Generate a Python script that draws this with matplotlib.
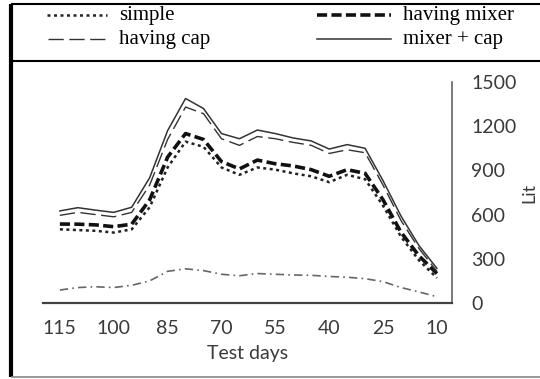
import matplotlib.pyplot as plt
from matplotlib.lines import Line2D

# consumo diario (Lit) por tratamiento
days = [115, 110, 105, 100, 95, 90, 85, 80, 75, 70, 65, 60, 55, 50, 45, 40, 35, 30, 25, 20, 15, 10]
simple = [500, 495, 490, 478, 500, 650, 920, 1095, 1060, 920, 870, 920, 905, 880, 860, 820, 870, 840, 660, 450, 290, 170]
having_mixer = [536, 535, 530, 518, 535, 700, 990, 1150, 1110, 960, 910, 970, 945, 930, 905, 860, 905, 880, 700, 480, 320, 200]
having_cap = [595, 615, 600, 585, 615, 800, 1110, 1330, 1285, 1115, 1070, 1130, 1115, 1090, 1070, 1015, 1040, 1020, 800, 560, 370, 215]
mixer_cap = [625, 647, 630, 615, 650, 850, 1170, 1388, 1320, 1150, 1115, 1174, 1150, 1120, 1100, 1045, 1075, 1050, 830, 590, 390, 235]
otro = [88, 105, 110, 105, 120, 150, 215, 232, 220, 195, 185, 200, 195, 190, 188, 180, 175, 165, 145, 105, 75, 43]

x_ticks = [115, 100, 85, 70, 55, 40, 25, 10]
y_ticks = [0, 300, 600, 900, 1200, 1500]

W, H = 540, 379
fig = plt.figure(figsize=(W / 100, H / 100), dpi=100)
ax = fig.add_axes([43 / W, 76 / H, 409 / W, 221 / H])

estilos = {
    'simple': dict(color='#222222', lw=1.8, ls=(0, (1.2, 1.4)), dash_capstyle='butt'),
    'having mixer': dict(color='#111111', lw=2.6, ls=(0, (2.8, 1.2)), dash_capstyle='butt'),
    'having cap': dict(color='#333333', lw=1.0, ls=(0, (11, 4))),
    'mixer + cap': dict(color='#333333', lw=1.1, ls='-'),
}

ax.plot(days, otro, color='#666666', lw=1.2, ls=(0, (5, 2.5, 1, 2.5)))
ax.plot(days, simple, **estilos['simple'])
ax.plot(days, having_mixer, **estilos['having mixer'])
ax.plot(days, having_cap, **estilos['having cap'])
ax.plot(days, mixer_cap, **estilos['mixer + cap'])

ax.set_xlim(119.7, 5.8)
ax.set_ylim(0, 1500)
ax.set_xticks(x_ticks)
ax.set_yticks(y_ticks)
ax.yaxis.tick_right()
ax.yaxis.set_label_position('right')
ax.tick_params(length=0, labelsize=14, labelcolor='#3a3a3a')
ax.tick_params(axis='x', pad=12)
ax.tick_params(axis='y', pad=14)
for lab in ax.get_xticklabels() + ax.get_yticklabels():
    lab.set_fontfamily('Lato')
ax.set_xlabel('Test days', fontfamily='Lato', fontsize=14, color='#3a3a3a', labelpad=6)
ax.set_ylabel('Lit', fontfamily='Lato', fontsize=13, color='#3a3a3a', labelpad=3)

ax.spines['top'].set_visible(False)
ax.spines['left'].set_visible(False)
ax.spines['bottom'].set_color('#404040')
ax.spines['bottom'].set_linewidth(1.6)
ax.spines['right'].set_color('#555555')
ax.spines['right'].set_linewidth(1.1)


# leyenda dibujada a mano arriba
def px(x, y):
    return x / W, 1 - y / H


def item(x0, x1, y, tx, base, nombre):
    (a, b), (c, _) = px(x0, y), px(x1, y)
    fig.add_artist(Line2D([a, c], [b, b], **estilos[nombre]))
    fig.text(*px(tx, base), nombre, fontfamily='Liberation Serif', fontsize=15,
             va='baseline', ha='left', color='black')


item(47, 107, 15, 119, 20, 'simple')
item(317, 391, 15, 403, 20, 'having mixer')
item(48, 109, 39, 119, 44, 'having cap')
item(317, 391, 39, 403, 44, 'mixer + cap')

# marco
for xs, ys, c, lw in [([11, 11], [4, 377], 'black', 3.0),
                      ([11, 540], [4, 4], 'black', 1.5),
                      ([11, 540], [61, 61], 'black', 1.5),
                      ([11, 540], [377, 377], '#888888', 1.2)]:
    fig.add_artist(Line2D([x / W for x in xs], [1 - y / H for y in ys], color=c, lw=lw,
                          solid_capstyle='butt'))

fig.savefig('out.png', dpi=100)
